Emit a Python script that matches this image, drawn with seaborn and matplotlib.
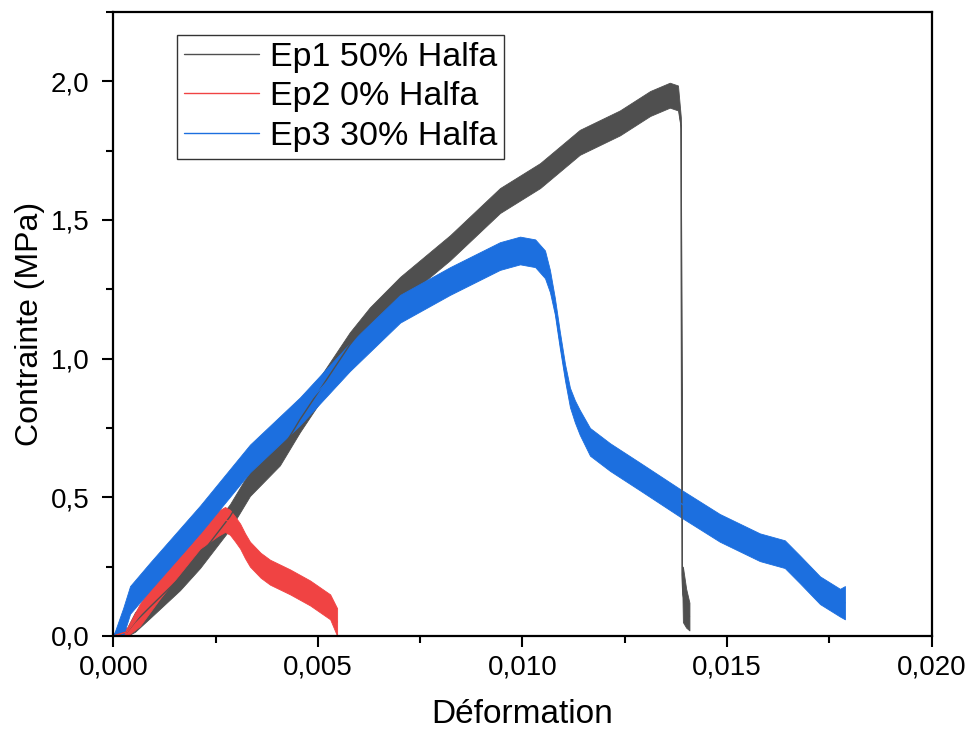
import numpy as np
import pandas as pd
import matplotlib
matplotlib.use("Agg")
import matplotlib.pyplot as plt
from matplotlib.ticker import MultipleLocator, FuncFormatter
from matplotlib.lines import Line2D
import seaborn as sns

# Stress-strain curves: strain, mean stress (MPa) and half-width of the noise band
ep1_strain = [0.0, 0.00034, 0.00053, 0.00090, 0.00163, 0.00212, 0.00285, 0.00334, 0.00407,
              0.00456, 0.00578, 0.00627, 0.00701, 0.00823, 0.00945, 0.01043, 0.01140,
              0.01238, 0.01312, 0.01360, 0.01380, 0.01387, 0.01390, 0.01392, 0.01400, 0.01408]
ep1_stress = [0.0, 0.01, 0.05, 0.105, 0.21, 0.29, 0.43, 0.55, 0.66,
              0.78, 1.05, 1.14, 1.25, 1.40, 1.57, 1.66, 1.78,
              1.85, 1.92, 1.95, 1.94, 1.85, 0.22, 0.15, 0.10, 0.07]
ep1_spread = [0.0, 0.02, 0.035, 0.04, 0.045, 0.045, 0.045, 0.045, 0.045,
              0.045, 0.045, 0.045, 0.045, 0.045, 0.045, 0.045, 0.045,
              0.045, 0.045, 0.045, 0.045, 0.02, 0.0, 0.10, 0.07, 0.05]

ep2_strain = [0.0, 0.00034, 0.00065, 0.00114, 0.00163, 0.00212, 0.00236, 0.00255, 0.00273,
              0.00285, 0.00298, 0.00310, 0.00322, 0.00334, 0.00360, 0.00383, 0.00432,
              0.00481, 0.00530, 0.00547]
ep2_stress = [0.0, 0.01, 0.076, 0.18, 0.27, 0.36, 0.385, 0.405, 0.42,
              0.41, 0.385, 0.36, 0.325, 0.295, 0.255, 0.23, 0.195,
              0.155, 0.105, 0.05]
ep2_spread = [0.0, 0.02, 0.04, 0.045, 0.045, 0.045, 0.045, 0.045, 0.045,
              0.045, 0.045, 0.045, 0.045, 0.045, 0.045, 0.045, 0.045,
              0.045, 0.045, 0.05]

ep3_strain = [0.0, 0.00024, 0.00041, 0.00090, 0.00212, 0.00334, 0.00456, 0.00578, 0.00701,
              0.00823, 0.00945, 0.00994, 0.01031, 0.01055, 0.01067, 0.01079, 0.01091,
              0.01104, 0.01116, 0.01128, 0.01140, 0.01165, 0.01214, 0.01287, 0.01385,
              0.01482, 0.01580, 0.01641, 0.01678, 0.01727, 0.01776, 0.01788]
ep3_stress = [0.0, 0.05, 0.13, 0.215, 0.42, 0.64, 0.81, 1.005, 1.18,
              1.28, 1.37, 1.39, 1.38, 1.34, 1.28, 1.19, 1.07,
              0.95, 0.86, 0.81, 0.77, 0.70, 0.645, 0.575, 0.48,
              0.39, 0.32, 0.295, 0.24, 0.165, 0.12, 0.12]
ep3_spread = [0.0, 0.05, 0.05, 0.05, 0.05, 0.05, 0.05, 0.05, 0.05,
              0.05, 0.05, 0.05, 0.05, 0.05, 0.04, 0.03, 0.03,
              0.03, 0.035, 0.04, 0.045, 0.05, 0.05, 0.05, 0.05,
              0.05, 0.05, 0.05, 0.05, 0.05, 0.05, 0.06]

series_names = ["Ep1 50% Halfa", "Ep2 0% Halfa", "Ep3 30% Halfa"]
series_colors = ["#4f4f4f", "#f04343", "#1c6fdf"]

x_ticks = [0.0, 0.005, 0.010, 0.015, 0.020]
y_ticks = [0.0, 0.5, 1.0, 1.5, 2.0]

# Long-form table: lower and upper envelope of each curve at every strain value
rows = []
for name, xs, ys, ss in zip(series_names,
                            [ep1_strain, ep2_strain, ep3_strain],
                            [ep1_stress, ep2_stress, ep3_stress],
                            [ep1_spread, ep2_spread, ep3_spread]):
    for x, y, s in zip(xs, ys, ss):
        rows.append({"serie": name, "strain": x, "stress": max(y - s, 0.0)})
        rows.append({"serie": name, "strain": x, "stress": y + s})
df = pd.DataFrame(rows)

sns.set_theme(style="ticks")
plt.rcParams["font.family"] = ["Liberation Sans", "DejaVu Sans"]
plt.rcParams.update({"text.color": "black", "axes.labelcolor": "black",
                     "xtick.color": "black", "ytick.color": "black"})

fig = plt.figure(figsize=(9.7, 7.31), dpi=100)
ax = fig.add_axes([0.1168, 0.130, 0.8437, 0.8536])

sns.lineplot(data=df, x="strain", y="stress", hue="serie", hue_order=series_names,
             palette=series_colors, errorbar=lambda v: (v.min(), v.max()),
             err_kws={"alpha": 1.0, "linewidth": 0.6}, linewidth=1.0, ax=ax, legend=False)

ax.set_xlim(0, 0.020)
ax.set_ylim(0, 2.25)
ax.set_xticks(x_ticks)
ax.set_yticks(y_ticks)
ax.xaxis.set_minor_locator(MultipleLocator(0.0025))
ax.yaxis.set_minor_locator(MultipleLocator(0.25))
ax.xaxis.set_major_formatter(FuncFormatter(lambda v, p: f"{v:.3f}".replace(".", ",")))
ax.yaxis.set_major_formatter(FuncFormatter(lambda v, p: f"{v:.1f}".replace(".", ",")))

for sp in ax.spines.values():
    sp.set_visible(True)
    sp.set_linewidth(1.6)
    sp.set_color("black")
ax.tick_params(which="major", direction="out", length=8, width=1.5, labelsize=20,
               colors="black")
ax.tick_params(axis="x", which="major", pad=5)
ax.tick_params(axis="y", which="major", pad=9)
ax.tick_params(which="minor", direction="out", length=5, width=1.5, colors="black")

ax.set_xlabel("Déformation", fontsize=24, labelpad=14, color="black")
ax.set_ylabel("Contrainte (MPa)", fontsize=23, labelpad=4, color="black")

handles = [Line2D([0], [0], color=c, linewidth=1.0) for c in series_colors]
leg = ax.legend(handles, series_names, loc="upper left", bbox_to_anchor=(0.078, 0.963),
                fontsize=24.5, frameon=True, fancybox=False, edgecolor="black",
                handlelength=2.2, handletextpad=0.33, labelspacing=0.25,
                borderpad=0.2, borderaxespad=0.0)
leg.get_frame().set_linewidth(1.0)
for t in leg.get_texts():
    t.set_color("black")

fig.savefig("out.png", dpi=100)
